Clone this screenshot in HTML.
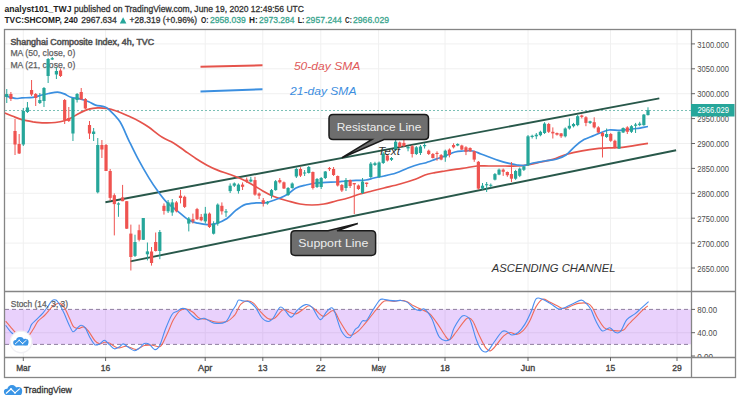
<!DOCTYPE html>
<html><head><meta charset="utf-8"><style>
html,body{margin:0;padding:0;background:#fff;width:740px;height:403px;overflow:hidden;}
svg{position:absolute;left:0;top:0;font-family:"Liberation Sans",sans-serif}
</style></head><body>
<svg width="740" height="403" viewBox="0 0 740 403">
<g stroke="#f0f0f0" stroke-width="1"><line x1="23.3" y1="30" x2="23.3" y2="357" /><line x1="105.6" y1="30" x2="105.6" y2="357" /><line x1="205.2" y1="30" x2="205.2" y2="357" /><line x1="262.8" y1="30" x2="262.8" y2="357" /><line x1="320.8" y1="30" x2="320.8" y2="357" /><line x1="378.6" y1="30" x2="378.6" y2="357" /><line x1="445.0" y1="30" x2="445.0" y2="357" /><line x1="528.0" y1="30" x2="528.0" y2="357" /><line x1="610.5" y1="30" x2="610.5" y2="357" /><line x1="677.0" y1="30" x2="677.0" y2="357" /><line x1="5" y1="43.9" x2="691" y2="43.9" /><line x1="5" y1="68.8" x2="691" y2="68.8" /><line x1="5" y1="93.7" x2="691" y2="93.7" /><line x1="5" y1="118.6" x2="691" y2="118.6" /><line x1="5" y1="143.5" x2="691" y2="143.5" /><line x1="5" y1="168.4" x2="691" y2="168.4" /><line x1="5" y1="193.3" x2="691" y2="193.3" /><line x1="5" y1="218.2" x2="691" y2="218.2" /><line x1="5" y1="243.1" x2="691" y2="243.1" /><line x1="5" y1="268.0" x2="691" y2="268.0" /><line x1="5" y1="332.7" x2="691" y2="332.7" /></g>
<rect x="5" y="309.4" width="686" height="34.9" fill="rgb(149,40,240)" fill-opacity="0.21"/>
<line x1="5" y1="309.4" x2="691" y2="309.4" stroke="#8f7f9f" stroke-width="1" stroke-dasharray="4 3"/>
<line x1="5" y1="344.4" x2="691" y2="344.4" stroke="#8f7f9f" stroke-width="1" stroke-dasharray="4 3"/>
<rect x="4.5" y="29.5" width="731" height="348" fill="none" stroke="#858585" stroke-width="1.3"/>
<line x1="691.5" y1="29.5" x2="691.5" y2="377.5" stroke="#858585" stroke-width="1.3"/>
<line x1="4.5" y1="291.5" x2="735.5" y2="291.5" stroke="#858585" stroke-width="1.3"/>
<line x1="4.5" y1="357.5" x2="735.5" y2="357.5" stroke="#858585" stroke-width="1.3"/>
<g font-family="Liberation Sans"><line x1="691" y1="43.9" x2="695" y2="43.9" stroke="#666" /><text x="697.3" y="47.5" font-size="8.8" fill="#4d4d4d" textLength="31.7" lengthAdjust="spacingAndGlyphs">3100.000</text><line x1="691" y1="68.8" x2="695" y2="68.8" stroke="#666" /><text x="697.3" y="72.4" font-size="8.8" fill="#4d4d4d" textLength="31.7" lengthAdjust="spacingAndGlyphs">3050.000</text><line x1="691" y1="93.7" x2="695" y2="93.7" stroke="#666" /><text x="697.3" y="97.3" font-size="8.8" fill="#4d4d4d" textLength="31.7" lengthAdjust="spacingAndGlyphs">3000.000</text><line x1="691" y1="118.6" x2="695" y2="118.6" stroke="#666" /><text x="697.3" y="122.2" font-size="8.8" fill="#4d4d4d" textLength="31.7" lengthAdjust="spacingAndGlyphs">2950.000</text><line x1="691" y1="143.5" x2="695" y2="143.5" stroke="#666" /><text x="697.3" y="147.1" font-size="8.8" fill="#4d4d4d" textLength="31.7" lengthAdjust="spacingAndGlyphs">2900.000</text><line x1="691" y1="168.4" x2="695" y2="168.4" stroke="#666" /><text x="697.3" y="172.0" font-size="8.8" fill="#4d4d4d" textLength="31.7" lengthAdjust="spacingAndGlyphs">2850.000</text><line x1="691" y1="193.3" x2="695" y2="193.3" stroke="#666" /><text x="697.3" y="196.9" font-size="8.8" fill="#4d4d4d" textLength="31.7" lengthAdjust="spacingAndGlyphs">2800.000</text><line x1="691" y1="218.2" x2="695" y2="218.2" stroke="#666" /><text x="697.3" y="221.8" font-size="8.8" fill="#4d4d4d" textLength="31.7" lengthAdjust="spacingAndGlyphs">2750.000</text><line x1="691" y1="243.1" x2="695" y2="243.1" stroke="#666" /><text x="697.3" y="246.7" font-size="8.8" fill="#4d4d4d" textLength="31.7" lengthAdjust="spacingAndGlyphs">2700.000</text><line x1="691" y1="268.0" x2="695" y2="268.0" stroke="#666" /><text x="697.3" y="271.6" font-size="8.8" fill="#4d4d4d" textLength="31.7" lengthAdjust="spacingAndGlyphs">2650.000</text></g>
<defs><clipPath id="sp"><rect x="691" y="292" width="45" height="65"/></clipPath></defs>
<g clip-path="url(#sp)" font-family="Liberation Sans"><line x1="691" y1="309.4" x2="695" y2="309.4" stroke="#666" /><text x="697.3" y="313.0" font-size="8.8" fill="#4d4d4d" textLength="19.8" lengthAdjust="spacingAndGlyphs">80.00</text><line x1="691" y1="332.7" x2="695" y2="332.7" stroke="#666" /><text x="697.3" y="336.3" font-size="8.8" fill="#4d4d4d" textLength="19.8" lengthAdjust="spacingAndGlyphs">40.00</text><line x1="691" y1="356.0" x2="695" y2="356.0" stroke="#666" /><text x="697.3" y="359.6" font-size="8.8" fill="#4d4d4d" textLength="15.8" lengthAdjust="spacingAndGlyphs">0.00</text></g>
<g font-family="Liberation Sans"><line x1="23.3" y1="357" x2="23.3" y2="361" stroke="#666"/><text x="23.3" y="370.8" font-size="8.6" fill="#444" textLength="14.3" lengthAdjust="spacingAndGlyphs" text-anchor="middle" stroke="#444" stroke-width="0.35">Mar</text><line x1="105.6" y1="357" x2="105.6" y2="361" stroke="#666"/><text x="105.6" y="370.8" font-size="8.6" fill="#444" textLength="9.5" lengthAdjust="spacingAndGlyphs" text-anchor="middle" stroke="#444" stroke-width="0.35">16</text><line x1="205.2" y1="357" x2="205.2" y2="361" stroke="#666"/><text x="205.2" y="370.8" font-size="8.6" fill="#444" textLength="14.3" lengthAdjust="spacingAndGlyphs" text-anchor="middle" stroke="#444" stroke-width="0.35">Apr</text><line x1="262.8" y1="357" x2="262.8" y2="361" stroke="#666"/><text x="262.8" y="370.8" font-size="8.6" fill="#444" textLength="9.5" lengthAdjust="spacingAndGlyphs" text-anchor="middle" stroke="#444" stroke-width="0.35">13</text><line x1="320.8" y1="357" x2="320.8" y2="361" stroke="#666"/><text x="320.8" y="370.8" font-size="8.6" fill="#444" textLength="9.5" lengthAdjust="spacingAndGlyphs" text-anchor="middle" stroke="#444" stroke-width="0.35">22</text><line x1="378.6" y1="357" x2="378.6" y2="361" stroke="#666"/><text x="378.6" y="370.8" font-size="8.6" fill="#444" textLength="14.3" lengthAdjust="spacingAndGlyphs" text-anchor="middle" stroke="#444" stroke-width="0.35">May</text><line x1="445.0" y1="357" x2="445.0" y2="361" stroke="#666"/><text x="445.0" y="370.8" font-size="8.6" fill="#444" textLength="9.5" lengthAdjust="spacingAndGlyphs" text-anchor="middle" stroke="#444" stroke-width="0.35">18</text><line x1="528.0" y1="357" x2="528.0" y2="361" stroke="#666"/><text x="528.0" y="370.8" font-size="8.6" fill="#444" textLength="14.3" lengthAdjust="spacingAndGlyphs" text-anchor="middle" stroke="#444" stroke-width="0.35">Jun</text><line x1="610.5" y1="357" x2="610.5" y2="361" stroke="#666"/><text x="610.5" y="370.8" font-size="8.6" fill="#444" textLength="9.5" lengthAdjust="spacingAndGlyphs" text-anchor="middle" stroke="#444" stroke-width="0.35">15</text><line x1="677.0" y1="357" x2="677.0" y2="361" stroke="#666"/><text x="677.0" y="370.8" font-size="8.6" fill="#444" textLength="9.5" lengthAdjust="spacingAndGlyphs" text-anchor="middle" stroke="#444" stroke-width="0.35">29</text></g>
<line x1="5" y1="110.5" x2="691" y2="110.5" stroke="#7cc0b6" stroke-width="1" stroke-dasharray="2 2"/>
<rect x="691" y="104" width="43.5" height="12.5" fill="#26a69a"/>
<text font-family="Liberation Sans" x="697.4" y="113.4" font-size="8.8" fill="#fff" textLength="31.6" lengthAdjust="spacingAndGlyphs">2966.029</text>
<g font-family="Liberation Sans"><text x="10.4" y="44.5" font-size="8.9" fill="#555" textLength="143.8" lengthAdjust="spacingAndGlyphs" stroke="#555" stroke-width="0.55">Shanghai Composite Index, 4h, TVC</text><text x="10.4" y="56.4" font-size="9.2" fill="#606060" textLength="64.9" lengthAdjust="spacingAndGlyphs" stroke="#606060" stroke-width="0.25">MA (50, close, 0)</text><text x="10.4" y="68.3" font-size="9.2" fill="#606060" textLength="64.9" lengthAdjust="spacingAndGlyphs" stroke="#606060" stroke-width="0.25">MA (21, close, 0)</text></g>
<line x1="105.4" y1="202.3" x2="659.3" y2="98.4" stroke="#28584a" stroke-width="1.9"/>
<line x1="130.4" y1="261.4" x2="676.1" y2="150.2" stroke="#28584a" stroke-width="1.9"/>
<path d="M5.0,113.0 C6.3,113.5 10.1,115.2 12.9,116.3 C15.7,117.4 18.5,118.7 21.9,119.6 C25.2,120.5 29.3,121.2 33.0,121.8 C36.7,122.3 40.5,122.8 44.2,122.9 C47.9,123.0 51.9,122.9 55.3,122.5 C58.6,122.1 61.7,121.5 64.3,120.7 C66.9,120.0 68.4,119.3 71.0,118.0 C73.6,116.7 76.9,114.4 79.9,112.9 C82.9,111.4 85.8,109.9 88.8,109.1 C91.8,108.2 94.8,107.9 97.8,107.8 C100.8,107.7 103.7,107.9 106.7,108.4 C109.7,108.9 111.9,109.4 115.6,110.7 C119.3,112.0 124.9,114.5 129.0,116.3 C133.1,118.1 136.7,119.9 140.0,121.7 C143.3,123.5 145.2,124.7 148.9,127.3 C152.6,129.9 158.2,134.7 162.3,137.3 C166.4,139.9 169.8,140.7 173.5,142.9 C177.2,145.1 180.9,148.1 184.6,150.7 C188.3,153.3 192.1,156.1 195.8,158.5 C199.5,160.9 203.3,163.2 207.0,165.2 C210.7,167.2 214.4,168.9 218.1,170.4 C221.8,171.9 225.6,172.8 229.3,174.2 C233.0,175.6 236.7,176.9 240.4,178.6 C244.1,180.3 247.9,182.1 251.6,184.2 C255.3,186.2 259.1,188.8 262.8,190.9 C266.5,193.0 269.7,194.8 273.9,196.5 C278.1,198.2 283.6,199.8 288.0,201.0 C292.4,202.2 296.0,203.3 300.0,204.0 C304.0,204.7 308.0,205.0 312.0,205.0 C316.0,205.0 320.0,204.7 324.0,204.0 C328.0,203.3 332.0,202.0 336.0,201.0 C340.0,200.0 344.0,199.2 348.0,198.0 C352.0,196.8 356.0,195.2 360.0,194.0 C364.0,192.8 368.0,192.0 372.0,191.0 C376.0,190.0 379.3,189.2 384.0,188.0 C388.7,186.8 394.7,185.5 400.0,184.0 C405.3,182.5 411.8,180.5 416.0,179.0 C420.2,177.5 421.8,176.1 425.0,175.0 C428.2,173.9 431.7,173.3 435.0,172.6 C438.3,171.9 441.7,171.5 445.0,171.0 C448.3,170.5 451.7,169.9 455.0,169.4 C458.3,168.9 461.3,168.6 465.0,168.0 C468.7,167.4 473.0,166.3 477.0,166.0 C481.0,165.7 484.3,166.0 489.0,166.0 C493.7,166.0 500.3,166.0 505.0,166.0 C509.7,166.0 513.0,166.2 517.0,166.0 C521.0,165.8 525.0,165.3 529.0,164.6 C533.0,163.9 537.0,162.9 541.0,162.0 C545.0,161.1 548.8,160.7 553.0,159.4 C557.2,158.2 561.2,155.9 566.0,154.5 C570.8,153.1 576.8,151.8 582.0,150.8 C587.2,149.8 592.0,149.1 597.0,148.6 C602.0,148.1 607.8,148.0 612.0,147.8 C616.2,147.6 618.8,147.8 622.5,147.4 C626.2,147.0 629.8,146.3 634.0,145.6 C638.2,144.9 645.7,143.8 648.0,143.4" fill="none" stroke="#e5534b" stroke-width="1.7"/><path d="M5.0,95.5 C6.7,96.0 12.4,98.0 15.2,98.4 C18.0,98.8 18.9,98.1 21.9,97.9 C24.9,97.7 29.6,97.8 33.0,97.3 C36.4,96.8 39.4,95.6 42.0,95.0 C44.6,94.4 46.0,94.0 48.6,93.5 C51.2,93.0 55.0,92.0 57.6,92.1 C60.2,92.2 62.1,93.0 64.3,93.9 C66.5,94.8 68.4,96.5 71.0,97.3 C73.6,98.1 76.9,98.1 79.9,98.8 C82.9,99.5 86.2,100.7 88.8,101.7 C91.4,102.8 92.9,104.3 95.5,105.1 C98.1,105.9 102.2,106.0 104.4,106.7 C106.6,107.5 106.3,107.1 108.9,109.6 C111.5,112.1 116.7,116.6 120.0,121.8 C123.3,127.0 126.0,134.7 129.0,140.8 C132.0,147.0 134.6,152.5 137.9,158.7 C141.2,164.9 145.6,172.5 148.9,177.9 C152.2,183.3 154.9,187.2 157.9,191.3 C160.9,195.4 163.5,199.1 166.8,202.4 C170.1,205.7 174.2,208.3 177.9,211.3 C181.6,214.3 185.8,218.3 189.1,220.3 C192.4,222.3 195.0,222.5 198.0,223.2 C201.0,223.9 204.0,224.6 207.0,224.7 C210.0,224.8 212.6,224.6 215.9,223.6 C219.2,222.6 223.7,220.7 227.0,218.5 C230.3,216.3 233.0,212.5 236.0,210.2 C239.0,207.9 241.6,205.8 244.9,204.6 C248.2,203.4 252.8,203.2 256.1,202.9 C259.5,202.6 262.0,203.4 265.0,202.9 C268.0,202.4 271.4,201.0 273.9,200.2 C276.4,199.4 277.6,199.0 280.0,198.0 C282.4,197.0 285.3,195.7 288.0,194.0 C290.7,192.3 293.0,189.5 296.0,188.0 C299.0,186.5 302.7,185.8 306.0,185.0 C309.3,184.2 312.7,183.4 316.0,183.0 C319.3,182.6 322.7,182.6 326.0,182.4 C329.3,182.2 332.7,182.2 336.0,182.0 C339.3,181.8 342.7,181.3 346.0,181.0 C349.3,180.7 352.7,180.6 356.0,180.4 C359.3,180.2 363.0,180.4 366.0,180.0 C369.0,179.6 371.0,178.7 374.0,178.0 C377.0,177.3 380.3,176.8 384.0,176.0 C387.7,175.2 392.0,174.3 396.0,173.0 C400.0,171.7 404.0,169.5 408.0,168.0 C412.0,166.5 417.2,164.8 420.0,164.0 C422.8,163.2 422.5,163.8 425.0,163.0 C427.5,162.2 431.7,160.6 435.0,159.4 C438.3,158.2 441.7,157.2 445.0,156.0 C448.3,154.8 452.0,152.8 455.0,152.0 C458.0,151.2 460.0,151.2 463.0,151.0 C466.0,150.8 470.0,150.5 473.0,151.0 C476.0,151.5 478.3,153.0 481.0,154.0 C483.7,155.0 486.0,155.9 489.0,157.0 C492.0,158.1 495.7,159.5 499.0,160.6 C502.3,161.7 506.0,162.7 509.0,163.4 C512.0,164.1 514.3,164.7 517.0,165.0 C519.7,165.3 522.3,165.7 525.0,165.4 C527.7,165.1 529.7,163.7 533.0,163.0 C536.3,162.3 541.0,161.7 545.0,161.0 C549.0,160.3 553.5,160.0 557.0,159.0 C560.5,158.0 563.0,157.1 566.0,155.0 C569.0,152.9 572.0,148.9 575.0,146.3 C578.0,143.7 581.0,141.3 584.0,139.6 C587.0,137.9 590.0,137.1 593.0,135.9 C596.0,134.7 599.3,133.2 602.0,132.2 C604.7,131.2 606.0,130.3 609.0,130.0 C612.0,129.7 616.8,130.5 620.0,130.4 C623.2,130.3 625.2,129.8 628.0,129.5 C630.8,129.2 633.7,129.0 637.0,128.5 C640.3,128.0 646.2,126.8 648.0,126.5" fill="none" stroke="#3b8fe0" stroke-width="1.7"/>
<g><rect x="6.25" y="89.0" width="1" height="14.0" fill="#26a69a"/><rect x="5.15" y="94.0" width="3.2" height="3.0" fill="#26a69a"/><rect x="10.39" y="92.0" width="1" height="9.0" fill="#ef5350"/><rect x="9.29" y="94.0" width="3.2" height="5.0" fill="#ef5350"/><rect x="14.52" y="119.0" width="1" height="36.0" fill="#ef5350"/><rect x="13.42" y="131.0" width="3.2" height="13.5" fill="#ef5350"/><rect x="18.66" y="134.0" width="1" height="20.0" fill="#ef5350"/><rect x="17.56" y="144.0" width="3.2" height="9.5" fill="#ef5350"/><rect x="22.80" y="108.0" width="1" height="38.0" fill="#26a69a"/><rect x="21.70" y="111.0" width="3.2" height="33.5" fill="#26a69a"/><rect x="26.93" y="102.0" width="1" height="11.0" fill="#26a69a"/><rect x="25.83" y="107.5" width="3.2" height="4.5" fill="#26a69a"/><rect x="31.07" y="80.0" width="1" height="16.0" fill="#ef5350"/><rect x="29.97" y="90.0" width="3.2" height="4.5" fill="#ef5350"/><rect x="35.21" y="93.0" width="1" height="13.0" fill="#ef5350"/><rect x="34.11" y="94.0" width="3.2" height="4.0" fill="#ef5350"/><rect x="39.35" y="93.0" width="1" height="11.0" fill="#26a69a"/><rect x="38.25" y="100.0" width="3.2" height="3.0" fill="#26a69a"/><rect x="43.48" y="87.0" width="1" height="20.0" fill="#26a69a"/><rect x="42.38" y="88.0" width="3.2" height="13.0" fill="#26a69a"/><rect x="47.62" y="58.0" width="1" height="25.0" fill="#26a69a"/><rect x="46.52" y="59.0" width="3.2" height="17.0" fill="#26a69a"/><rect x="51.76" y="57.0" width="1" height="3.0" fill="#26a69a"/><rect x="50.66" y="58.2" width="3.2" height="1.3" fill="#26a69a"/><rect x="55.89" y="67.0" width="1" height="12.0" fill="#26a69a"/><rect x="54.79" y="71.0" width="3.2" height="3.5" fill="#26a69a"/><rect x="60.03" y="68.5" width="1" height="8.5" fill="#ef5350"/><rect x="58.93" y="70.5" width="3.2" height="5.5" fill="#ef5350"/><rect x="64.17" y="99.0" width="1" height="25.0" fill="#ef5350"/><rect x="63.07" y="100.0" width="3.2" height="20.0" fill="#ef5350"/><rect x="68.30" y="107.0" width="1" height="15.0" fill="#ef5350"/><rect x="67.20" y="118.0" width="3.2" height="3.0" fill="#ef5350"/><rect x="72.44" y="98.0" width="1" height="43.0" fill="#26a69a"/><rect x="71.34" y="98.0" width="3.2" height="35.5" fill="#26a69a"/><rect x="76.58" y="93.0" width="1" height="9.5" fill="#26a69a"/><rect x="75.48" y="94.0" width="3.2" height="6.0" fill="#26a69a"/><rect x="80.72" y="88.0" width="1" height="11.5" fill="#ef5350"/><rect x="79.62" y="92.0" width="3.2" height="7.5" fill="#ef5350"/><rect x="84.85" y="98.0" width="1" height="11.0" fill="#ef5350"/><rect x="83.75" y="99.0" width="3.2" height="9.5" fill="#ef5350"/><rect x="88.99" y="121.0" width="1" height="18.0" fill="#ef5350"/><rect x="87.89" y="125.0" width="3.2" height="8.5" fill="#ef5350"/><rect x="93.13" y="128.0" width="1" height="13.0" fill="#26a69a"/><rect x="92.03" y="131.5" width="3.2" height="2.5" fill="#26a69a"/><rect x="97.26" y="138.0" width="1" height="55.4" fill="#26a69a"/><rect x="96.16" y="145.0" width="3.2" height="47.3" fill="#26a69a"/><rect x="101.40" y="140.0" width="1" height="18.0" fill="#ef5350"/><rect x="100.30" y="145.0" width="3.2" height="4.5" fill="#ef5350"/><rect x="105.54" y="144.0" width="1" height="27.0" fill="#ef5350"/><rect x="104.44" y="145.0" width="3.2" height="26.0" fill="#ef5350"/><rect x="109.67" y="169.0" width="1" height="32.0" fill="#ef5350"/><rect x="108.57" y="171.0" width="3.2" height="26.9" fill="#ef5350"/><rect x="113.81" y="193.4" width="1" height="42.0" fill="#ef5350"/><rect x="112.71" y="195.2" width="3.2" height="8.9" fill="#ef5350"/><rect x="117.95" y="202.3" width="1" height="14.5" fill="#26a69a"/><rect x="116.85" y="203.4" width="3.2" height="1.2" fill="#26a69a"/><rect x="122.09" y="184.9" width="1" height="16.3" fill="#ef5350"/><rect x="120.99" y="197.4" width="3.2" height="3.8" fill="#ef5350"/><rect x="126.22" y="201.0" width="1" height="28.0" fill="#ef5350"/><rect x="125.12" y="201.2" width="3.2" height="27.5" fill="#ef5350"/><rect x="130.36" y="224.6" width="1" height="45.9" fill="#ef5350"/><rect x="129.26" y="233.6" width="3.2" height="23.4" fill="#ef5350"/><rect x="134.50" y="234.7" width="1" height="22.3" fill="#26a69a"/><rect x="133.40" y="242.0" width="3.2" height="13.9" fill="#26a69a"/><rect x="138.63" y="224.6" width="1" height="16.8" fill="#ef5350"/><rect x="137.53" y="230.2" width="3.2" height="9.6" fill="#ef5350"/><rect x="142.77" y="218.0" width="1" height="22.0" fill="#26a69a"/><rect x="141.67" y="218.0" width="3.2" height="21.8" fill="#26a69a"/><rect x="146.91" y="242.5" width="1" height="17.9" fill="#26a69a"/><rect x="145.81" y="251.4" width="3.2" height="2.9" fill="#26a69a"/><rect x="151.04" y="247.0" width="1" height="18.6" fill="#ef5350"/><rect x="149.94" y="251.5" width="3.2" height="11.5" fill="#ef5350"/><rect x="155.18" y="232.5" width="1" height="19.0" fill="#ef5350"/><rect x="154.08" y="242.0" width="3.2" height="9.0" fill="#ef5350"/><rect x="159.32" y="230.0" width="1" height="29.2" fill="#26a69a"/><rect x="158.22" y="232.0" width="3.2" height="19.0" fill="#26a69a"/><rect x="163.46" y="203.4" width="1" height="11.2" fill="#ef5350"/><rect x="162.36" y="205.8" width="3.2" height="5.1" fill="#ef5350"/><rect x="167.59" y="200.0" width="1" height="13.0" fill="#26a69a"/><rect x="166.49" y="202.4" width="3.2" height="8.9" fill="#26a69a"/><rect x="171.73" y="199.0" width="1" height="16.8" fill="#26a69a"/><rect x="170.63" y="202.4" width="3.2" height="10.1" fill="#26a69a"/><rect x="175.87" y="201.0" width="1" height="11.4" fill="#ef5350"/><rect x="174.77" y="202.4" width="3.2" height="8.9" fill="#ef5350"/><rect x="180.00" y="190.0" width="1" height="13.4" fill="#ef5350"/><rect x="178.90" y="195.7" width="3.2" height="2.3" fill="#ef5350"/><rect x="184.14" y="195.6" width="1" height="12.4" fill="#ef5350"/><rect x="183.04" y="196.8" width="3.2" height="10.1" fill="#ef5350"/><rect x="188.28" y="217.0" width="1" height="14.4" fill="#26a69a"/><rect x="187.18" y="218.5" width="3.2" height="5.1" fill="#26a69a"/><rect x="192.41" y="213.6" width="1" height="9.9" fill="#ef5350"/><rect x="191.31" y="219.2" width="3.2" height="2.2" fill="#ef5350"/><rect x="196.55" y="207.9" width="1" height="12.1" fill="#ef5350"/><rect x="195.45" y="209.1" width="3.2" height="10.1" fill="#ef5350"/><rect x="200.69" y="214.0" width="1" height="7.3" fill="#ef5350"/><rect x="199.59" y="216.9" width="3.2" height="3.4" fill="#ef5350"/><rect x="204.83" y="206.9" width="1" height="16.6" fill="#26a69a"/><rect x="203.73" y="213.6" width="3.2" height="7.8" fill="#26a69a"/><rect x="208.96" y="212.5" width="1" height="15.5" fill="#ef5350"/><rect x="207.86" y="213.6" width="3.2" height="13.4" fill="#ef5350"/><rect x="213.10" y="221.3" width="1" height="13.2" fill="#26a69a"/><rect x="212.00" y="223.6" width="3.2" height="10.1" fill="#26a69a"/><rect x="217.24" y="203.4" width="1" height="22.3" fill="#26a69a"/><rect x="216.14" y="204.6" width="3.2" height="19.0" fill="#26a69a"/><rect x="221.37" y="202.4" width="1" height="12.2" fill="#ef5350"/><rect x="220.27" y="205.8" width="3.2" height="5.5" fill="#ef5350"/><rect x="225.51" y="209.0" width="1" height="7.9" fill="#26a69a"/><rect x="224.41" y="211.3" width="3.2" height="1.2" fill="#26a69a"/><rect x="229.65" y="183.4" width="1" height="9.6" fill="#26a69a"/><rect x="228.55" y="185.7" width="3.2" height="5.4" fill="#26a69a"/><rect x="233.78" y="182.4" width="1" height="4.6" fill="#26a69a"/><rect x="232.68" y="183.4" width="3.2" height="2.3" fill="#26a69a"/><rect x="237.92" y="183.4" width="1" height="10.2" fill="#26a69a"/><rect x="236.82" y="184.6" width="3.2" height="6.5" fill="#26a69a"/><rect x="242.06" y="182.4" width="1" height="7.6" fill="#ef5350"/><rect x="240.96" y="184.6" width="3.2" height="2.2" fill="#ef5350"/><rect x="246.20" y="177.5" width="1" height="5.4" fill="#ef5350"/><rect x="245.10" y="179.6" width="3.2" height="1.6" fill="#ef5350"/><rect x="250.33" y="176.8" width="1" height="5.6" fill="#26a69a"/><rect x="249.23" y="179.6" width="3.2" height="1.9" fill="#26a69a"/><rect x="254.47" y="176.8" width="1" height="18.9" fill="#ef5350"/><rect x="253.37" y="180.1" width="3.2" height="14.5" fill="#ef5350"/><rect x="258.61" y="192.5" width="1" height="6.5" fill="#ef5350"/><rect x="257.51" y="193.5" width="3.2" height="2.2" fill="#ef5350"/><rect x="262.74" y="198.0" width="1" height="8.5" fill="#ef5350"/><rect x="261.64" y="200.2" width="3.2" height="3.3" fill="#ef5350"/><rect x="266.88" y="201.0" width="1" height="3.7" fill="#26a69a"/><rect x="265.78" y="202.0" width="3.2" height="1.5" fill="#26a69a"/><rect x="271.02" y="189.0" width="1" height="9.5" fill="#26a69a"/><rect x="269.92" y="190.1" width="3.2" height="5.6" fill="#26a69a"/><rect x="275.15" y="180.0" width="1" height="10.7" fill="#26a69a"/><rect x="274.05" y="181.2" width="3.2" height="8.9" fill="#26a69a"/><rect x="279.29" y="178.0" width="1" height="5.5" fill="#ef5350"/><rect x="278.19" y="180.1" width="3.2" height="2.2" fill="#ef5350"/><rect x="283.43" y="181.5" width="1" height="7.5" fill="#ef5350"/><rect x="282.33" y="182.3" width="3.2" height="6.2" fill="#ef5350"/><rect x="287.57" y="187.0" width="1" height="9.0" fill="#26a69a"/><rect x="286.47" y="188.0" width="3.2" height="7.0" fill="#26a69a"/><rect x="291.70" y="182.4" width="1" height="6.3" fill="#26a69a"/><rect x="290.60" y="183.5" width="3.2" height="4.5" fill="#26a69a"/><rect x="295.84" y="167.5" width="1" height="10.5" fill="#26a69a"/><rect x="294.74" y="169.0" width="3.2" height="7.5" fill="#26a69a"/><rect x="299.98" y="167.2" width="1" height="9.8" fill="#ef5350"/><rect x="298.88" y="169.0" width="3.2" height="6.6" fill="#ef5350"/><rect x="304.11" y="170.0" width="1" height="6.0" fill="#26a69a"/><rect x="303.01" y="172.5" width="3.2" height="1.0" fill="#26a69a"/><rect x="308.25" y="166.0" width="1" height="7.5" fill="#26a69a"/><rect x="307.15" y="167.0" width="3.2" height="6.0" fill="#26a69a"/><rect x="312.39" y="171.5" width="1" height="18.0" fill="#ef5350"/><rect x="311.29" y="172.0" width="3.2" height="16.0" fill="#ef5350"/><rect x="316.52" y="178.0" width="1" height="10.0" fill="#26a69a"/><rect x="315.42" y="179.0" width="3.2" height="8.0" fill="#26a69a"/><rect x="320.66" y="177.0" width="1" height="12.0" fill="#26a69a"/><rect x="319.56" y="178.0" width="3.2" height="9.0" fill="#26a69a"/><rect x="324.80" y="171.0" width="1" height="8.0" fill="#26a69a"/><rect x="323.70" y="171.5" width="3.2" height="6.5" fill="#26a69a"/><rect x="328.94" y="167.0" width="1" height="4.0" fill="#ef5350"/><rect x="327.84" y="168.0" width="3.2" height="1.2" fill="#ef5350"/><rect x="333.07" y="167.0" width="1" height="9.0" fill="#ef5350"/><rect x="331.97" y="169.0" width="3.2" height="6.0" fill="#ef5350"/><rect x="337.21" y="175.5" width="1" height="11.0" fill="#ef5350"/><rect x="336.11" y="176.0" width="3.2" height="9.5" fill="#ef5350"/><rect x="341.35" y="184.0" width="1" height="8.0" fill="#ef5350"/><rect x="340.25" y="185.0" width="3.2" height="5.5" fill="#ef5350"/><rect x="345.48" y="178.0" width="1" height="13.0" fill="#26a69a"/><rect x="344.38" y="180.0" width="3.2" height="8.0" fill="#26a69a"/><rect x="349.62" y="179.5" width="1" height="8.5" fill="#ef5350"/><rect x="348.52" y="180.0" width="3.2" height="6.0" fill="#ef5350"/><rect x="353.76" y="183.0" width="1" height="31.0" fill="#ef5350"/><rect x="352.66" y="183.0" width="3.2" height="1.4" fill="#ef5350"/><rect x="357.89" y="184.5" width="1" height="5.5" fill="#ef5350"/><rect x="356.79" y="185.5" width="3.2" height="3.5" fill="#ef5350"/><rect x="362.03" y="178.0" width="1" height="16.0" fill="#26a69a"/><rect x="360.93" y="181.5" width="3.2" height="11.5" fill="#26a69a"/><rect x="366.17" y="182.6" width="1" height="4.4" fill="#ef5350"/><rect x="365.07" y="182.6" width="3.2" height="1.4" fill="#ef5350"/><rect x="370.31" y="162.0" width="1" height="16.0" fill="#26a69a"/><rect x="369.21" y="163.6" width="3.2" height="13.4" fill="#26a69a"/><rect x="374.44" y="161.8" width="1" height="4.2" fill="#26a69a"/><rect x="373.34" y="163.2" width="3.2" height="1.8" fill="#26a69a"/><rect x="378.58" y="161.5" width="1" height="16.5" fill="#26a69a"/><rect x="377.48" y="162.5" width="3.2" height="14.5" fill="#26a69a"/><rect x="382.72" y="152.0" width="1" height="12.0" fill="#26a69a"/><rect x="381.62" y="153.5" width="3.2" height="9.5" fill="#26a69a"/><rect x="386.85" y="154.0" width="1" height="7.5" fill="#ef5350"/><rect x="385.75" y="155.5" width="3.2" height="5.0" fill="#ef5350"/><rect x="390.99" y="157.0" width="1" height="4.0" fill="#26a69a"/><rect x="389.89" y="158.0" width="3.2" height="1.8" fill="#26a69a"/><rect x="395.13" y="140.0" width="1" height="11.0" fill="#26a69a"/><rect x="394.03" y="141.7" width="3.2" height="8.3" fill="#26a69a"/><rect x="399.26" y="141.5" width="1" height="6.5" fill="#ef5350"/><rect x="398.16" y="142.5" width="3.2" height="4.5" fill="#ef5350"/><rect x="403.40" y="137.3" width="1" height="9.7" fill="#ef5350"/><rect x="402.30" y="142.9" width="3.2" height="3.1" fill="#ef5350"/><rect x="407.54" y="146.0" width="1" height="5.3" fill="#26a69a"/><rect x="406.44" y="147.0" width="3.2" height="1.4" fill="#26a69a"/><rect x="411.68" y="145.0" width="1" height="12.5" fill="#ef5350"/><rect x="410.58" y="146.2" width="3.2" height="7.8" fill="#ef5350"/><rect x="415.81" y="146.0" width="1" height="9.0" fill="#26a69a"/><rect x="414.71" y="147.3" width="3.2" height="6.7" fill="#26a69a"/><rect x="419.95" y="145.0" width="1" height="10.0" fill="#26a69a"/><rect x="418.85" y="146.5" width="3.2" height="6.5" fill="#26a69a"/><rect x="424.09" y="143.0" width="1" height="5.5" fill="#26a69a"/><rect x="422.99" y="145.0" width="3.2" height="1.2" fill="#26a69a"/><rect x="428.22" y="149.6" width="1" height="5.4" fill="#ef5350"/><rect x="427.12" y="150.7" width="3.2" height="3.3" fill="#ef5350"/><rect x="432.36" y="153.0" width="1" height="5.5" fill="#ef5350"/><rect x="431.26" y="154.0" width="3.2" height="4.0" fill="#ef5350"/><rect x="436.50" y="151.3" width="1" height="9.4" fill="#ef5350"/><rect x="435.40" y="152.9" width="3.2" height="1.1" fill="#ef5350"/><rect x="440.63" y="154.0" width="1" height="6.3" fill="#ef5350"/><rect x="439.53" y="155.1" width="3.2" height="4.5" fill="#ef5350"/><rect x="444.77" y="149.6" width="1" height="12.2" fill="#26a69a"/><rect x="443.67" y="150.7" width="3.2" height="6.7" fill="#26a69a"/><rect x="448.91" y="148.4" width="1" height="9.0" fill="#ef5350"/><rect x="447.81" y="149.6" width="3.2" height="5.5" fill="#ef5350"/><rect x="453.05" y="143.3" width="1" height="5.1" fill="#ef5350"/><rect x="451.95" y="145.0" width="3.2" height="2.3" fill="#ef5350"/><rect x="457.18" y="143.3" width="1" height="2.9" fill="#26a69a"/><rect x="456.08" y="144.0" width="3.2" height="1.5" fill="#26a69a"/><rect x="461.32" y="144.7" width="1" height="5.3" fill="#ef5350"/><rect x="460.22" y="145.5" width="3.2" height="4.1" fill="#ef5350"/><rect x="465.46" y="146.2" width="1" height="8.9" fill="#ef5350"/><rect x="464.36" y="147.3" width="3.2" height="4.5" fill="#ef5350"/><rect x="469.59" y="147.3" width="1" height="4.5" fill="#ef5350"/><rect x="468.49" y="148.0" width="3.2" height="3.3" fill="#ef5350"/><rect x="473.73" y="150.7" width="1" height="11.1" fill="#ef5350"/><rect x="472.63" y="151.3" width="3.2" height="8.3" fill="#ef5350"/><rect x="477.87" y="161.0" width="1" height="28.7" fill="#ef5350"/><rect x="476.77" y="161.8" width="3.2" height="26.8" fill="#ef5350"/><rect x="482.00" y="183.0" width="1" height="6.7" fill="#26a69a"/><rect x="480.90" y="185.7" width="3.2" height="2.9" fill="#26a69a"/><rect x="486.14" y="182.0" width="1" height="10.0" fill="#26a69a"/><rect x="485.04" y="184.2" width="3.2" height="1.1" fill="#26a69a"/><rect x="490.28" y="183.5" width="1" height="4.0" fill="#26a69a"/><rect x="489.18" y="184.8" width="3.2" height="1.0" fill="#26a69a"/><rect x="494.42" y="173.0" width="1" height="7.4" fill="#26a69a"/><rect x="493.32" y="174.1" width="3.2" height="5.6" fill="#26a69a"/><rect x="498.55" y="168.5" width="1" height="6.7" fill="#26a69a"/><rect x="497.45" y="169.6" width="3.2" height="5.0" fill="#26a69a"/><rect x="502.69" y="168.5" width="1" height="7.4" fill="#ef5350"/><rect x="501.59" y="169.6" width="3.2" height="2.2" fill="#ef5350"/><rect x="506.83" y="171.5" width="1" height="5.3" fill="#ef5350"/><rect x="505.73" y="172.0" width="3.2" height="3.2" fill="#ef5350"/><rect x="510.96" y="162.0" width="1" height="20.0" fill="#ef5350"/><rect x="509.86" y="174.0" width="3.2" height="4.7" fill="#ef5350"/><rect x="515.10" y="169.8" width="1" height="10.0" fill="#26a69a"/><rect x="514.00" y="171.0" width="3.2" height="7.7" fill="#26a69a"/><rect x="519.24" y="167.5" width="1" height="9.6" fill="#26a69a"/><rect x="518.14" y="168.7" width="3.2" height="7.1" fill="#26a69a"/><rect x="523.38" y="166.0" width="1" height="5.0" fill="#26a69a"/><rect x="522.27" y="166.4" width="3.2" height="3.4" fill="#26a69a"/><rect x="527.51" y="135.0" width="1" height="31.0" fill="#26a69a"/><rect x="526.41" y="136.3" width="3.2" height="29.0" fill="#26a69a"/><rect x="531.65" y="134.7" width="1" height="3.8" fill="#26a69a"/><rect x="530.55" y="135.8" width="3.2" height="1.2" fill="#26a69a"/><rect x="535.79" y="133.0" width="1" height="6.2" fill="#26a69a"/><rect x="534.69" y="134.7" width="3.2" height="1.6" fill="#26a69a"/><rect x="539.92" y="130.7" width="1" height="5.6" fill="#26a69a"/><rect x="538.82" y="131.8" width="3.2" height="3.4" fill="#26a69a"/><rect x="544.06" y="122.2" width="1" height="11.8" fill="#26a69a"/><rect x="542.96" y="123.6" width="3.2" height="9.4" fill="#26a69a"/><rect x="548.20" y="122.9" width="1" height="10.1" fill="#ef5350"/><rect x="547.10" y="124.0" width="3.2" height="7.8" fill="#ef5350"/><rect x="552.33" y="127.4" width="1" height="11.1" fill="#ef5350"/><rect x="551.23" y="131.8" width="3.2" height="1.6" fill="#ef5350"/><rect x="556.47" y="132.5" width="1" height="3.1" fill="#ef5350"/><rect x="555.37" y="133.0" width="3.2" height="1.7" fill="#ef5350"/><rect x="560.61" y="133.0" width="1" height="4.9" fill="#ef5350"/><rect x="559.51" y="133.4" width="3.2" height="2.9" fill="#ef5350"/><rect x="564.74" y="127.4" width="1" height="10.0" fill="#26a69a"/><rect x="563.64" y="128.5" width="3.2" height="7.8" fill="#26a69a"/><rect x="568.88" y="118.4" width="1" height="11.2" fill="#26a69a"/><rect x="567.78" y="125.8" width="3.2" height="2.7" fill="#26a69a"/><rect x="573.02" y="122.9" width="1" height="4.5" fill="#26a69a"/><rect x="571.92" y="124.0" width="3.2" height="2.2" fill="#26a69a"/><rect x="577.16" y="115.0" width="1" height="11.2" fill="#26a69a"/><rect x="576.06" y="116.2" width="3.2" height="8.9" fill="#26a69a"/><rect x="581.29" y="114.6" width="1" height="3.8" fill="#ef5350"/><rect x="580.19" y="115.5" width="3.2" height="1.4" fill="#ef5350"/><rect x="585.43" y="116.2" width="1" height="10.0" fill="#ef5350"/><rect x="584.33" y="117.3" width="3.2" height="5.6" fill="#ef5350"/><rect x="589.57" y="120.7" width="1" height="3.3" fill="#26a69a"/><rect x="588.47" y="121.3" width="3.2" height="1.6" fill="#26a69a"/><rect x="593.70" y="117.3" width="1" height="11.2" fill="#ef5350"/><rect x="592.60" y="122.2" width="3.2" height="5.2" fill="#ef5350"/><rect x="597.84" y="126.2" width="1" height="7.2" fill="#ef5350"/><rect x="596.74" y="127.4" width="3.2" height="5.1" fill="#ef5350"/><rect x="601.98" y="131.8" width="1" height="25.7" fill="#ef5350"/><rect x="600.88" y="133.0" width="3.2" height="3.3" fill="#ef5350"/><rect x="606.11" y="128.5" width="1" height="9.4" fill="#26a69a"/><rect x="605.01" y="134.0" width="3.2" height="3.0" fill="#26a69a"/><rect x="610.25" y="133.0" width="1" height="8.9" fill="#ef5350"/><rect x="609.15" y="134.0" width="3.2" height="6.8" fill="#ef5350"/><rect x="614.39" y="139.7" width="1" height="8.9" fill="#ef5350"/><rect x="613.29" y="140.8" width="3.2" height="6.7" fill="#ef5350"/><rect x="618.53" y="131.2" width="1" height="17.8" fill="#26a69a"/><rect x="617.43" y="131.8" width="3.2" height="16.8" fill="#26a69a"/><rect x="622.66" y="127.4" width="1" height="5.6" fill="#26a69a"/><rect x="621.56" y="128.0" width="3.2" height="4.5" fill="#26a69a"/><rect x="626.80" y="126.2" width="1" height="7.8" fill="#ef5350"/><rect x="625.70" y="127.4" width="3.2" height="4.4" fill="#ef5350"/><rect x="630.94" y="125.1" width="1" height="7.9" fill="#26a69a"/><rect x="629.84" y="126.2" width="3.2" height="5.6" fill="#26a69a"/><rect x="635.07" y="122.9" width="1" height="10.1" fill="#26a69a"/><rect x="633.97" y="124.5" width="3.2" height="1.3" fill="#26a69a"/><rect x="639.21" y="121.8" width="1" height="4.4" fill="#26a69a"/><rect x="638.11" y="123.6" width="3.2" height="1.5" fill="#26a69a"/><rect x="643.35" y="114.0" width="1" height="11.8" fill="#26a69a"/><rect x="642.25" y="114.6" width="3.2" height="10.5" fill="#26a69a"/><rect x="647.48" y="107.3" width="1" height="8.2" fill="#26a69a"/><rect x="646.38" y="110.2" width="3.2" height="4.9" fill="#26a69a"/></g>
<path d="M5.6,321.2 C6.4,322.1 8.9,325.0 10.5,326.9 C12.1,328.8 13.7,331.0 15.4,332.5 C17.1,334.0 18.9,335.4 21.0,336.0 C23.1,336.6 26.3,336.9 28.3,335.8 C30.3,334.7 31.6,331.7 33.2,329.3 C34.8,326.9 36.1,323.5 38.0,321.2 C39.9,318.9 42.5,317.5 44.5,315.5 C46.5,313.5 48.6,310.8 50.2,309.0 C51.8,307.2 52.7,305.9 54.3,305.0 C55.9,304.1 58.1,302.9 59.9,303.4 C61.6,303.9 63.2,305.6 64.8,308.2 C66.4,310.8 68.2,315.7 69.7,318.8 C71.2,321.9 72.2,325.3 73.7,326.9 C75.2,328.5 77.0,328.5 78.6,328.5 C80.2,328.5 81.9,326.5 83.5,326.9 C85.1,327.3 86.4,328.6 88.3,330.9 C90.2,333.2 92.9,338.4 94.8,340.6 C96.7,342.8 98.1,343.6 99.7,343.9 C101.3,344.2 102.9,342.4 104.5,342.3 C106.1,342.2 107.8,342.4 109.4,343.1 C111.0,343.8 112.7,345.5 114.3,346.3 C115.9,347.1 117.1,347.9 119.1,347.9 C121.1,347.9 123.7,346.0 126.5,346.3 C129.3,346.6 133.2,349.7 136.2,349.6 C139.2,349.5 141.6,346.2 144.3,345.5 C147.0,344.8 149.7,345.1 152.4,345.2 C155.1,345.3 158.1,348.1 160.5,346.3 C162.9,344.5 164.8,338.6 167.0,334.2 C169.2,329.8 171.3,323.5 173.5,319.6 C175.7,315.7 177.8,312.4 180.0,310.6 C182.2,308.8 184.3,308.7 186.5,309.0 C188.7,309.3 190.8,310.8 193.0,312.3 C195.2,313.9 197.3,317.2 199.5,318.3 C201.7,319.4 203.2,318.6 205.9,319.2 C208.6,319.8 212.2,321.6 215.7,322.0 C219.2,322.4 224.0,322.4 227.0,321.5 C230.0,320.6 232.0,317.7 233.5,316.3 C235.0,314.9 234.8,315.1 236.0,313.1 C237.2,311.1 239.0,306.2 240.9,304.2 C242.8,302.2 245.2,301.0 247.4,300.9 C249.6,300.8 251.7,301.6 253.8,303.4 C256.0,305.2 257.9,308.9 260.3,311.5 C262.7,314.1 266.0,317.7 268.4,318.8 C270.8,319.9 272.5,319.5 274.9,318.0 C277.3,316.5 280.6,310.8 283.0,309.8 C285.4,308.9 287.3,311.6 289.5,312.3 C291.7,313.0 293.8,314.3 296.0,313.9 C298.2,313.5 300.3,311.1 302.5,309.8 C304.7,308.5 306.8,305.8 309.0,305.8 C311.2,305.8 313.1,308.1 315.5,309.8 C317.9,311.6 320.6,316.2 323.6,316.3 C326.6,316.4 330.6,309.8 333.3,310.6 C336.0,311.4 337.4,317.3 339.8,321.2 C342.2,325.1 345.9,331.5 347.9,333.8 C349.9,336.1 350.2,335.5 352.0,335.0 C353.8,334.5 356.3,332.8 358.5,330.9 C360.7,329.0 362.8,326.2 365.0,323.6 C367.2,321.0 369.3,318.2 371.5,315.5 C373.7,312.8 375.9,309.8 378.0,307.4 C380.1,305.0 381.7,301.9 384.4,300.9 C387.1,299.9 391.5,301.5 394.2,301.4 C396.9,301.3 398.5,300.3 400.6,300.4 C402.8,300.4 404.9,300.8 407.1,301.7 C409.3,302.6 411.2,304.5 413.6,305.8 C416.0,307.1 419.0,308.1 421.7,309.5 C424.4,310.9 427.1,311.4 429.8,313.9 C432.5,316.4 435.5,321.0 437.9,324.4 C440.3,327.8 442.5,331.9 444.4,334.5 C446.3,337.1 447.4,340.1 449.3,339.8 C451.2,339.5 453.6,335.2 455.8,332.5 C458.0,329.8 460.3,326.0 462.3,323.6 C464.3,321.2 466.1,318.3 467.9,317.9 C469.7,317.5 471.0,318.2 472.9,321.2 C474.8,324.2 477.2,331.4 479.4,335.8 C481.5,340.2 483.9,345.4 485.8,347.9 C487.7,350.4 488.8,351.4 490.7,350.7 C492.6,350.0 495.0,346.4 497.2,343.9 C499.4,341.4 501.5,337.7 503.7,335.8 C505.9,333.9 508.0,332.7 510.2,332.5 C512.4,332.3 514.5,334.8 516.6,334.5 C518.8,334.2 520.9,332.8 523.1,330.6 C525.3,328.4 527.4,325.2 529.6,321.2 C531.8,317.2 533.9,310.2 536.1,306.6 C538.3,303.0 540.4,300.1 542.6,299.3 C544.8,298.5 546.7,300.6 549.1,301.7 C551.5,302.8 554.8,304.7 557.2,305.8 C559.6,306.9 561.3,308.5 563.7,308.5 C566.1,308.5 569.4,306.7 571.8,305.8 C574.2,304.9 575.4,303.8 578.1,303.4 C580.8,303.0 585.4,302.6 587.8,303.4 C590.2,304.2 591.1,305.8 592.7,308.2 C594.3,310.6 595.7,314.8 597.6,318.0 C599.5,321.2 602.0,325.7 604.1,327.7 C606.2,329.7 608.4,329.6 610.5,330.1 C612.6,330.6 614.8,330.9 617.0,330.9 C619.2,330.9 621.6,331.2 623.5,330.1 C625.4,329.0 626.2,326.7 628.4,324.4 C630.6,322.1 634.1,318.7 636.5,316.3 C638.9,313.9 641.1,311.6 643.0,309.8 C644.9,308.1 647.0,306.5 647.8,305.8" fill="none" stroke="#ef6b5a" stroke-width="1.1"/><path d="M5.6,325.2 C6.4,326.3 8.9,329.9 10.5,331.7 C12.1,333.5 13.7,334.6 15.4,335.8 C17.1,337.0 18.9,339.7 21.0,339.0 C23.1,338.3 26.5,334.1 28.3,331.7 C30.1,329.3 30.2,326.4 31.6,324.4 C33.0,322.4 34.5,321.5 36.4,319.6 C38.3,317.7 41.0,315.3 42.9,313.1 C44.8,310.9 46.3,308.6 47.8,306.6 C49.3,304.6 50.4,302.0 51.8,300.9 C53.1,299.8 54.5,299.4 55.9,300.1 C57.2,300.8 58.5,302.8 59.9,305.0 C61.2,307.2 62.5,309.9 64.0,313.1 C65.5,316.3 67.4,321.3 68.9,324.4 C70.4,327.5 71.6,331.0 72.9,331.7 C74.2,332.4 75.7,329.6 77.0,328.5 C78.3,327.4 79.7,325.3 81.0,325.2 C82.3,325.1 83.6,325.7 85.1,327.7 C86.6,329.7 88.3,334.6 89.9,337.4 C91.5,340.2 93.2,343.6 94.8,344.7 C96.4,345.8 98.1,344.6 99.7,343.9 C101.3,343.2 102.9,340.2 104.5,340.3 C106.1,340.4 107.8,343.3 109.4,344.7 C111.0,346.1 112.7,348.4 114.3,348.8 C115.9,349.2 117.6,347.9 119.1,347.1 C120.6,346.3 121.7,343.9 123.2,343.9 C124.7,343.9 126.2,346.0 128.1,347.1 C130.0,348.2 132.7,350.6 134.6,350.7 C136.5,350.8 137.9,349.1 139.5,347.9 C141.1,346.7 142.7,344.2 144.3,343.6 C145.9,343.0 147.4,343.2 149.2,344.2 C151.0,345.2 153.2,349.4 154.9,349.6 C156.7,349.8 157.9,348.9 159.7,345.5 C161.4,342.1 163.4,334.4 165.4,329.3 C167.4,324.2 170.0,317.7 171.9,314.7 C173.8,311.7 175.2,312.5 176.8,311.5 C178.4,310.5 180.0,308.8 181.6,308.5 C183.2,308.2 184.9,308.5 186.5,309.5 C188.1,310.5 189.4,313.0 191.3,314.7 C193.2,316.4 195.6,319.0 197.8,319.6 C200.0,320.2 201.6,317.7 204.3,318.3 C207.0,318.9 210.5,322.5 214.0,323.1 C217.5,323.7 222.4,323.9 225.4,322.0 C228.4,320.1 230.1,314.3 231.9,311.5 C233.7,308.7 234.9,306.9 236.0,305.0 C237.1,303.1 237.3,300.8 238.4,300.1 C239.5,299.4 240.7,300.6 242.5,300.9 C244.3,301.2 246.8,300.6 249.0,301.7 C251.2,302.8 253.3,304.7 255.5,307.4 C257.7,310.1 259.9,315.6 262.0,318.0 C264.1,320.4 266.5,321.5 268.4,321.5 C270.3,321.5 271.4,320.4 273.3,318.0 C275.2,315.6 277.9,308.8 279.8,307.4 C281.7,306.0 282.7,308.2 284.6,309.8 C286.5,311.4 288.9,317.1 291.1,317.1 C293.3,317.1 295.2,311.9 297.6,309.8 C300.0,307.7 303.3,305.0 305.7,304.6 C308.1,304.2 309.8,304.9 312.2,307.4 C314.6,309.9 317.9,318.9 320.3,319.6 C322.7,320.3 324.6,313.3 326.8,311.5 C329.0,309.7 330.9,305.8 333.3,309.0 C335.7,312.2 338.7,326.1 341.4,330.9 C344.1,335.7 347.2,338.0 349.5,337.7 C351.8,337.4 353.7,331.1 355.2,329.3 C356.7,327.5 357.3,328.3 358.5,326.9 C359.7,325.5 361.1,322.0 362.5,320.9 C363.9,319.8 364.8,322.2 366.6,320.4 C368.4,318.5 370.9,313.2 373.1,309.8 C375.3,306.4 377.9,301.9 379.6,300.1 C381.4,298.4 382.0,299.2 383.6,299.3 C385.2,299.4 387.3,300.1 389.3,300.4 C391.3,300.7 393.9,300.9 395.8,300.9 C397.7,300.9 398.7,300.2 400.6,300.4 C402.5,300.6 404.9,300.8 407.1,302.1 C409.3,303.4 411.4,306.8 413.6,308.2 C415.8,309.6 418.3,310.5 420.1,310.6 C421.9,310.7 422.3,307.8 424.2,309.0 C426.1,310.2 428.9,313.3 431.5,318.0 C434.1,322.7 436.6,333.8 439.6,337.4 C442.6,341.0 446.9,341.4 449.3,339.8 C451.7,338.2 452.0,331.7 454.2,327.7 C456.4,323.7 459.9,317.6 462.3,316.0 C464.7,314.4 467.2,316.4 468.8,317.9 C470.4,319.4 470.8,321.7 472.0,325.2 C473.2,328.7 474.5,334.8 476.1,339.0 C477.7,343.2 479.9,348.4 481.8,350.4 C483.7,352.4 485.5,352.5 487.5,351.2 C489.5,349.9 491.6,345.6 494.0,342.3 C496.4,339.1 499.9,333.5 502.0,331.7 C504.1,329.9 505.3,331.1 506.9,331.7 C508.5,332.2 509.9,334.9 511.8,335.0 C513.7,335.1 516.1,334.3 518.3,332.5 C520.5,330.7 522.6,327.9 524.8,324.4 C526.9,320.9 529.3,315.8 531.2,311.5 C533.1,307.2 534.2,300.8 536.1,298.8 C538.0,296.8 540.2,298.5 542.6,299.3 C545.0,300.1 548.0,302.1 550.7,303.7 C553.4,305.3 556.4,308.4 558.8,309.0 C561.2,309.6 562.9,308.3 565.3,307.4 C567.7,306.5 570.7,304.6 573.4,303.4 C576.1,302.2 579.3,300.1 581.4,300.1 C583.5,300.1 584.6,301.8 586.2,303.4 C587.8,305.0 589.5,306.8 591.1,309.8 C592.7,312.8 594.1,317.7 596.0,321.2 C597.9,324.7 600.1,329.8 602.4,330.9 C604.7,332.0 607.5,327.4 609.7,327.7 C611.9,328.0 613.6,331.8 615.4,332.5 C617.2,333.2 618.4,333.8 620.3,331.7 C622.2,329.6 624.4,322.6 626.8,319.6 C629.2,316.6 632.5,315.8 634.9,313.9 C637.3,312.0 639.0,310.2 641.3,308.2 C643.6,306.2 647.4,302.8 648.6,301.7" fill="none" stroke="#4a8ef0" stroke-width="1.1"/>
<line x1="200.5" y1="66.8" x2="262.5" y2="65.3" stroke="#e5534b" stroke-width="2"/>
<line x1="200.5" y1="91.6" x2="262.5" y2="89.2" stroke="#3b8fe0" stroke-width="2"/>
<path d="M333,114.5 H424.5 Q428.5,114.5 428.5,118.5 V135.5 Q428.5,139.5 424.5,139.5 H384 L342,157.7 L372,139.5 H333 Q329,139.5 329,135.5 V118.5 Q329,114.5 333,114.5 Z" fill="#6e6e6e" stroke="#1a1a1a" stroke-width="1.5"/>
<text font-family="Liberation Sans" x="336.7" y="130.9" font-size="11.5" fill="#ececec" textLength="84.6" lengthAdjust="spacingAndGlyphs">Resistance Line</text>
<path d="M295,230.8 H328 L357.8,223.5 L337,230.8 H371.6 Q375.6,230.8 375.6,234.8 V251.4 Q375.6,255.4 371.6,255.4 H295 Q291,255.4 291,251.4 V234.8 Q291,230.8 295,230.8 Z" fill="#6e6e6e" stroke="#1a1a1a" stroke-width="1.5"/>
<text font-family="Liberation Sans" x="298.3" y="247.3" font-size="11.5" fill="#ececec" textLength="70" lengthAdjust="spacingAndGlyphs">Support Line</text>
<g font-family="Liberation Sans"><text x="4.5" y="11.8" font-size="9.2" fill="#222" textLength="67" lengthAdjust="spacingAndGlyphs" font-weight="bold">analyst101_TWJ</text><text x="74" y="11.8" font-size="9.2" fill="#333" textLength="230" lengthAdjust="spacingAndGlyphs" stroke="#333" stroke-width="0.3">published on TradingView.com, June 19, 2020 12:49:56 UTC</text><text x="4.5" y="23.4" font-size="9.2" fill="#222" textLength="73.5" lengthAdjust="spacingAndGlyphs" font-weight="bold">TVC:SHCOMP, 240</text><text x="81.2" y="23.4" font-size="9.2" fill="#333" textLength="35.6" lengthAdjust="spacingAndGlyphs" stroke="#333" stroke-width="0.3">2967.634</text><path d="M119.8,23.4 L123.1,17.3 L126.4,23.4 Z" fill="#26a69a"/><text x="129.6" y="23.4" font-size="9.2" fill="#333" textLength="67.6" lengthAdjust="spacingAndGlyphs" stroke="#333" stroke-width="0.3">+28.319 (+0.96%)</text><text x="201" y="23.4" font-size="9.2" fill="#222" textLength="7.5" lengthAdjust="spacingAndGlyphs" font-weight="bold">O:</text><text x="209.9" y="23.4" font-size="9.2" fill="#3aa58e" textLength="35.9" lengthAdjust="spacingAndGlyphs" stroke="#3aa58e" stroke-width="0.3">2958.039</text><text x="249" y="23.4" font-size="9.2" fill="#222" textLength="8.7" lengthAdjust="spacingAndGlyphs" font-weight="bold">H:</text><text x="259" y="23.4" font-size="9.2" fill="#3aa58e" textLength="35.5" lengthAdjust="spacingAndGlyphs" stroke="#3aa58e" stroke-width="0.3">2973.284</text><text x="297.7" y="23.4" font-size="9.2" fill="#222" textLength="6.8" lengthAdjust="spacingAndGlyphs" font-weight="bold">L:</text><text x="305.8" y="23.4" font-size="9.2" fill="#3aa58e" textLength="36.0" lengthAdjust="spacingAndGlyphs" stroke="#3aa58e" stroke-width="0.3">2957.244</text><text x="345" y="23.4" font-size="9.2" fill="#222" textLength="6.8" lengthAdjust="spacingAndGlyphs" font-weight="bold">C:</text><text x="353" y="23.4" font-size="9.2" fill="#3aa58e" textLength="36" lengthAdjust="spacingAndGlyphs" stroke="#3aa58e" stroke-width="0.3">2966.029</text><text x="10.8" y="306.5" font-size="8.6" fill="#606060" textLength="57.2" lengthAdjust="spacingAndGlyphs" stroke="#606060" stroke-width="0.25">Stoch (14, 3, 3)</text><text x="293.9" y="69.5" font-size="11.5" fill="#e05a5a" textLength="66.5" lengthAdjust="spacingAndGlyphs" font-style="italic">50-day SMA</text><text x="290" y="95.4" font-size="11.2" fill="#3d8ee0" textLength="66.5" lengthAdjust="spacingAndGlyphs" font-style="italic">21-day SMA</text><text x="378" y="155.2" font-size="10.5" fill="#333" textLength="22" lengthAdjust="spacingAndGlyphs" font-style="italic">Text</text><text x="491.8" y="271.8" font-size="10.6" fill="#333" textLength="123.6" lengthAdjust="spacingAndGlyphs" font-style="italic">ASCENDING CHANNEL</text><text x="23.8" y="393.1" font-size="9" fill="#333" textLength="48.1" lengthAdjust="spacingAndGlyphs" stroke="#333" stroke-width="0.3">TradingView</text></g>
<circle cx="21" cy="342" r="10.8" fill="#fff" stroke="#f0f0f4" stroke-width="1.2"/>
<g transform="translate(4,385) scale(1.0)" fill="#3a95e6"><circle cx="8" cy="4.8" r="4.8"/><circle cx="14.3" cy="6" r="3.9"/><circle cx="3" cy="6.8" r="3.1"/><rect x="1.5" y="5.5" width="16" height="4.5" rx="1.2"/><polyline points="2,8.5 7,4 11,7.8 15.8,3.6" fill="none" stroke="#fff" stroke-width="1.1" stroke-linejoin="round"/><circle cx="7" cy="4" r="0.9" fill="#fff"/><circle cx="11" cy="7.8" r="0.9" fill="#fff"/></g>
<g transform="translate(13.3,337) scale(0.84)" fill="#3a95e6"><circle cx="8" cy="4.8" r="4.8"/><circle cx="14.3" cy="6" r="3.9"/><circle cx="3" cy="6.8" r="3.1"/><rect x="1.5" y="5.5" width="16" height="4.5" rx="1.2"/><polyline points="2,8.5 7,4 11,7.8 15.8,3.6" fill="none" stroke="#fff" stroke-width="1.1" stroke-linejoin="round"/><circle cx="7" cy="4" r="0.9" fill="#fff"/><circle cx="11" cy="7.8" r="0.9" fill="#fff"/></g>
</svg>
</body></html>
